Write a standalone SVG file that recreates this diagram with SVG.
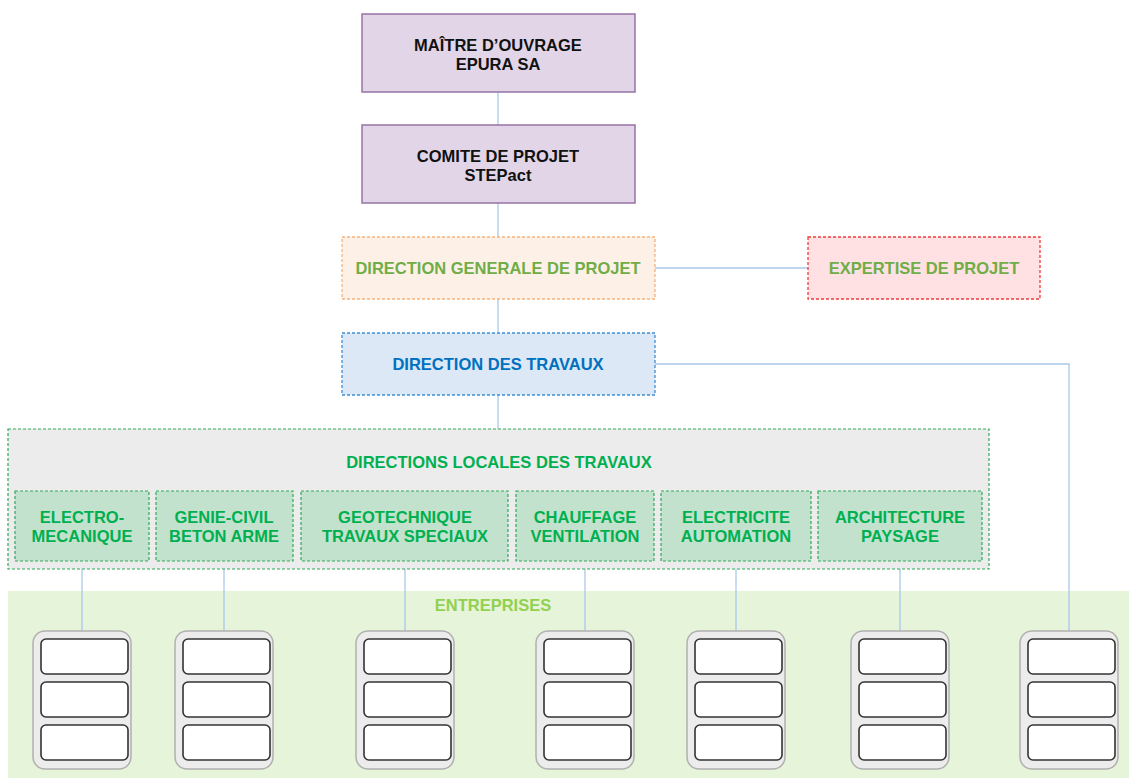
<svg xmlns="http://www.w3.org/2000/svg" width="1129" height="778" viewBox="0 0 1129 778">
<defs>
<style>
text{font-family:"Liberation Sans",Arial,sans-serif;font-weight:bold;font-size:16.5px;text-anchor:middle}
.purple{fill:#e1d5e7;stroke:#9673a6;stroke-width:1.5}
.dk{fill:#111}
.conn{stroke:#a9c8ea;stroke-width:1.3;fill:none}
.sub{fill:#c2e2cd;stroke:#2eaa5a;stroke-width:1.2;stroke-dasharray:3 2}
.gt{fill:#00b050}
.outer{fill:#ececec;stroke:#b0b0b0;stroke-width:1.5}
.inner{fill:#fff;stroke:#333;stroke-width:1.6}
</style>
<g id="ent">
<rect class="outer" x="0" y="0" width="98" height="138" rx="12"/>
<rect class="inner" x="8" y="8" width="87" height="35" rx="5"/>
<rect class="inner" x="8" y="51" width="87" height="35" rx="5"/>
<rect class="inner" x="8" y="94" width="87" height="35" rx="5"/>
</g>
</defs>
<rect x="0" y="0" width="1129" height="778" fill="#fff"/>
<g id="entreprises-bg">
<rect x="8" y="591" width="1121" height="187" fill="#e6f4d9"/>
<text x="493" y="611" fill="#92d050">ENTREPRISES</text>
</g>
<g id="connectors">
<line class="conn" x1="498" y1="92" x2="498" y2="125"/>
<line class="conn" x1="498" y1="203" x2="498" y2="237"/>
<line class="conn" x1="655" y1="268" x2="808" y2="268"/>
<line class="conn" x1="498" y1="299" x2="498" y2="333"/>
<polyline class="conn" points="655,364 1069,364 1069,631"/>
<line class="conn" x1="498" y1="395" x2="498" y2="429"/>
<line class="conn" x1="82" y1="561" x2="82" y2="631"/>
<line class="conn" x1="224" y1="561" x2="224" y2="631"/>
<line class="conn" x1="405" y1="561" x2="405" y2="631"/>
<line class="conn" x1="585" y1="561" x2="585" y2="631"/>
<line class="conn" x1="736" y1="561" x2="736" y2="631"/>
<line class="conn" x1="900" y1="561" x2="900" y2="631"/>
</g>
<g id="maitre">
<rect class="purple" x="362" y="14" width="273" height="78"/>
<text class="dk" x="498" y="51">MAÎTRE D’OUVRAGE</text>
<text class="dk" x="498" y="70">EPURA SA</text>
</g>
<g id="comite">
<rect class="purple" x="362" y="125" width="273" height="78"/>
<text class="dk" x="498" y="162">COMITE DE PROJET</text>
<text class="dk" x="498" y="181">STEPact</text>
</g>
<g id="dg">
<rect x="342" y="237" width="313" height="62" fill="#fdf1e7" stroke="#f6b27a" stroke-width="1.3" stroke-dasharray="3 2"/>
<text x="498" y="274" fill="#70ad47">DIRECTION GENERALE DE PROJET</text>
</g>
<g id="expertise">
<rect x="808" y="237" width="232" height="62" fill="#ffe1e3" stroke="#f03a3a" stroke-width="1.3" stroke-dasharray="3 2"/>
<text x="924" y="274" fill="#70ad47">EXPERTISE DE PROJET</text>
</g>
<g id="dt">
<rect x="342" y="333" width="313" height="62" fill="#dce8f6" stroke="#3d8fd6" stroke-width="1.3" stroke-dasharray="3 2"/>
<text x="498" y="370" fill="#0070c0">DIRECTION DES TRAVAUX</text>
</g>
<g id="dlt">
<rect x="8" y="429" width="981" height="140" fill="#ececec" stroke="#2eaa5a" stroke-width="1.2" stroke-dasharray="3 2"/>
<text class="gt" x="499" y="468">DIRECTIONS LOCALES DES TRAVAUX</text>
</g>
<g id="dl-electromecanique">
<rect class="sub" x="15" y="491" width="134" height="70"/>
<text class="gt" x="82" y="523">ELECTRO-</text>
<text class="gt" x="82" y="542">MECANIQUE</text>
</g>
<g id="dl-geniecivil">
<rect class="sub" x="156" y="491" width="137" height="70"/>
<text class="gt" x="224" y="523">GENIE-CIVIL</text>
<text class="gt" x="224" y="542">BETON ARME</text>
</g>
<g id="dl-geotechnique">
<rect class="sub" x="301" y="491" width="207" height="70"/>
<text class="gt" x="405" y="523">GEOTECHNIQUE</text>
<text class="gt" x="405" y="542">TRAVAUX SPECIAUX</text>
</g>
<g id="dl-chauffage">
<rect class="sub" x="516" y="491" width="138" height="70"/>
<text class="gt" x="585" y="523">CHAUFFAGE</text>
<text class="gt" x="585" y="542">VENTILATION</text>
</g>
<g id="dl-electricite">
<rect class="sub" x="661" y="491" width="150" height="70"/>
<text class="gt" x="736" y="523">ELECTRICITE</text>
<text class="gt" x="736" y="542">AUTOMATION</text>
</g>
<g id="dl-architecture">
<rect class="sub" x="818" y="491" width="164" height="70"/>
<text class="gt" x="900" y="523">ARCHITECTURE</text>
<text class="gt" x="900" y="542">PAYSAGE</text>
</g>
<g id="ent-1"><use href="#ent" x="33" y="631"/></g>
<g id="ent-2"><use href="#ent" x="175" y="631"/></g>
<g id="ent-3"><use href="#ent" x="356" y="631"/></g>
<g id="ent-4"><use href="#ent" x="536" y="631"/></g>
<g id="ent-5"><use href="#ent" x="687" y="631"/></g>
<g id="ent-6"><use href="#ent" x="851" y="631"/></g>
<g id="ent-7"><use href="#ent" x="1020" y="631"/></g>
</svg>
